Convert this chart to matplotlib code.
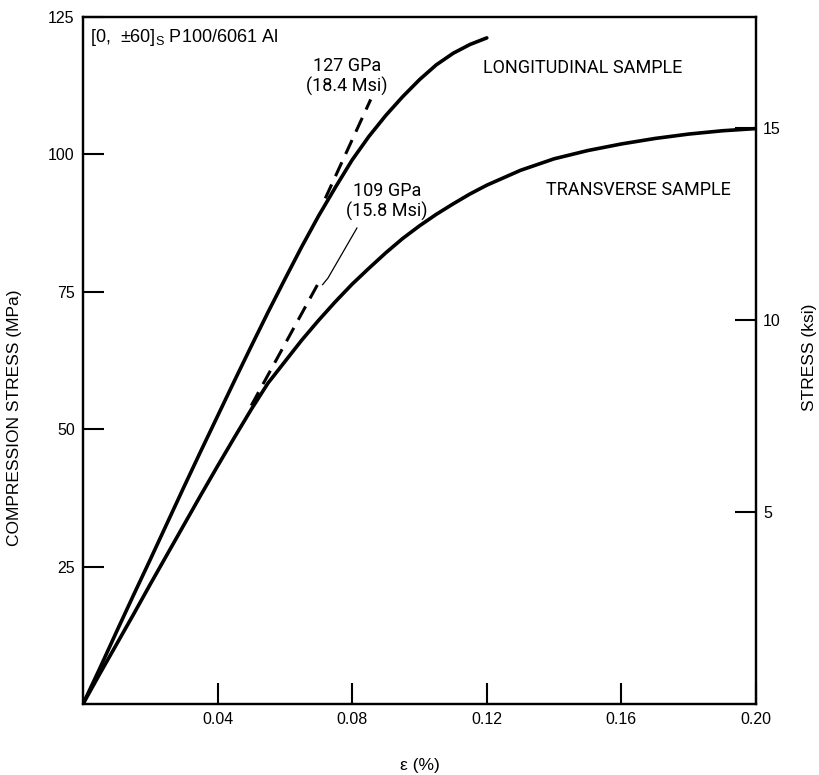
import matplotlib
matplotlib.use("Agg")
import matplotlib.pyplot as plt

# ---- data ----
long_strain = [0.0, 0.005, 0.010, 0.015, 0.020, 0.025, 0.030, 0.035, 0.040, 0.045, 0.050,
               0.055, 0.060, 0.065, 0.070, 0.075, 0.080, 0.085, 0.090, 0.095, 0.100,
               0.105, 0.110, 0.115, 0.120]
long_stress = [0.0, 6.5, 13.2, 19.8, 26.3, 32.9, 39.5, 46.0, 52.4, 58.8, 65.1,
               71.3, 77.3, 83.2, 88.8, 94.0, 99.0, 103.3, 107.1, 110.5, 113.6,
               116.3, 118.4, 120.0, 121.2]

trans_strain = [0.0, 0.005, 0.010, 0.015, 0.020, 0.025, 0.030, 0.035, 0.040, 0.045, 0.050,
                0.055, 0.060, 0.065, 0.070, 0.075, 0.080, 0.085, 0.090, 0.095, 0.100,
                0.105, 0.110, 0.115, 0.120, 0.130, 0.140, 0.150, 0.160, 0.170, 0.180,
                0.190, 0.200]
trans_stress = [0.0, 5.5, 10.9, 16.3, 21.8, 27.2, 32.6, 38.0, 43.3, 48.5, 53.6,
                58.4, 62.3, 66.2, 69.8, 73.2, 76.4, 79.3, 82.1, 84.7, 87.0,
                89.1, 91.0, 92.8, 94.4, 97.1, 99.2, 100.7, 101.9, 102.9, 103.7,
                104.3, 104.7]

long_mod_strain = [0.072, 0.0855]
long_mod_stress = [92.0, 110.0]
trans_mod_strain = [0.050, 0.0697]
trans_mod_stress = [54.3, 76.3]
leader_strain = [0.0712, 0.0728, 0.0814]
leader_stress = [76.3, 77.5, 86.6]

x_ticks = [0.04, 0.08, 0.12, 0.16, 0.20]
x_ticklabels = ["0.04", "0.08", "0.12", "0.16", "0.20"]
y_ticks = [25, 50, 75, 100, 125]
ksi_ticks = [5, 10, 15]
KSI_AXIS_TOP = 17.9   # right axis top value as drawn in the reference

plt.rcParams['font.family'] = ['Liberation Sans', 'DejaVu Sans']

fig = plt.figure(figsize=(8.2, 7.75), dpi=100)
ax = fig.add_axes([83/820, 1 - 704/775, (756-83)/820, (704-17)/775])

lw = 2.6
ax.plot(long_strain, long_stress, color='black', lw=lw, solid_capstyle='round', solid_joinstyle='round')
ax.plot(trans_strain, trans_stress, color='black', lw=lw, solid_capstyle='round', solid_joinstyle='round')
ax.plot(long_mod_strain, long_mod_stress, color='black', lw=2.2, dashes=(5, 3))
ax.plot(trans_mod_strain, trans_mod_stress, color='black', lw=2.2, dashes=(5, 3))
ax.plot(leader_strain, leader_stress, color='black', lw=0.9)

ax.set_xlim(0, 0.20)
ax.set_ylim(0, 125)
ax.set_xticks(x_ticks)
ax.set_xticklabels(x_ticklabels)
ax.set_yticks(y_ticks)
ax.tick_params(direction='in', length=15, width=1.5, labelsize=11.5, pad=6)
for s in ax.spines.values():
    s.set_linewidth(1.6)

ax2 = ax.twinx()
ax2.set_ylim(0, KSI_AXIS_TOP)
ax2.set_yticks(ksi_ticks)
ax2.tick_params(direction='in', length=15, width=1.5, labelsize=11.5, pad=5)
for s in ax2.spines.values():
    s.set_linewidth(1.6)

ax.set_ylabel("COMPRESSION STRESS (MPa)", fontsize=12.5)
ax.yaxis.set_label_coords(-0.090, 0.416)
ax2.set_ylabel("STRESS (ksi)", fontsize=12.5, rotation=90)
ax2.yaxis.set_label_coords(1.069, 0.505)
ax.set_xlabel("ε (%)", fontsize=12.5, labelpad=22)

ann = dict(family=['Roboto', 'DejaVu Sans'], fontsize=13, ha='center', va='center')
ax.text(0.0785, 114.2, "127 GPa\n(18.4 Msi)", linespacing=1.1, **ann)
ax.text(0.0903, 91.4, "109 GPa\n(15.8 Msi)", linespacing=1.1, **ann)
ax.text(0.1486, 115.7, "LONGITUDINAL SAMPLE", **ann)
ax.text(0.165, 93.5, "TRANSVERSE SAMPLE", **ann)
ax.text(0.002, 121.2, r"[0,  ±60]$_\mathregular{S}$ P100/6061 Al", fontsize=13, ha='left', va='center')

fig.savefig("out.png", dpi=100)
